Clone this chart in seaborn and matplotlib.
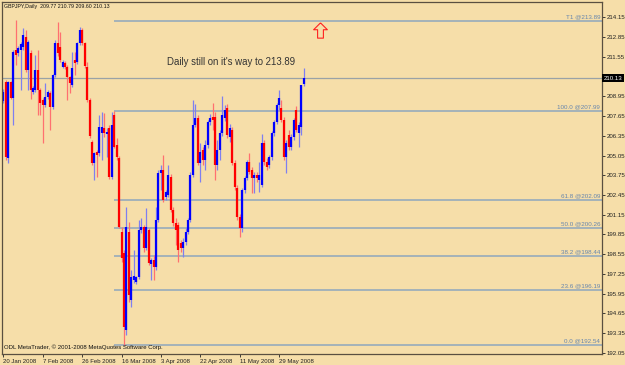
import numpy as np
import matplotlib
matplotlib.use("Agg")
import matplotlib.pyplot as plt
import matplotlib.transforms as mtransforms
from matplotlib.path import Path
import seaborn as sns

# ---------------- data (GBPJPY daily) ----------------
open_ = [208.62, 209.87, 204.87, 209.87, 208.82, 211.98, 211.78, 211.98, 212.18, 212.83,
         210.66, 211.78, 209.22, 209.35, 210.66, 209.35, 208.69, 208.36, 208.89, 209.15,
         208.23, 210.33, 212.44, 212.18, 210.86, 211.12, 210.86, 210.20, 209.68, 211.32,
         211.19, 212.44, 213.29, 212.44, 210.86, 208.69, 205.93, 204.54, 205.27, 205.20,
         206.52, 206.85, 206.45, 206.85, 203.62, 207.70, 205.73, 204.87, 200.00, 198.62,
         193.56, 200.00, 195.53, 196.85, 196.71, 197.04, 200.14, 200.33, 198.95, 200.14,
         197.90, 198.16, 197.70, 200.79, 203.89, 204.08, 202.31, 202.44, 203.62, 201.45,
         200.60, 200.47, 199.28, 198.95, 199.35, 200.00, 200.79, 203.75, 207.05, 207.51,
         204.54, 205.40, 204.74, 205.73, 207.24, 207.57, 207.57, 204.41, 205.40, 206.52,
         207.51, 208.16, 206.26, 206.72, 204.54, 202.90, 200.99, 200.27, 202.77, 203.56,
         204.61, 204.08, 203.56, 203.75, 203.43, 203.10, 205.86, 204.61, 204.41, 204.94,
         206.52, 207.24, 208.36, 208.16, 207.37, 204.94, 206.39, 205.60, 206.26, 208.03,
         206.52, 206.90, 209.77]
high = [209.41, 210.00, 209.94, 209.94, 211.98, 213.95, 212.24, 212.51, 213.43, 213.29,
        212.64, 211.98, 209.61, 211.65, 211.98, 209.48, 208.82, 209.81, 209.35, 209.28,
        210.40, 212.64, 213.82, 213.16, 211.32, 211.26, 210.99, 210.27, 211.85, 211.85,
        212.51, 213.49, 213.43, 212.51, 211.19, 208.82, 206.06, 205.27, 205.40, 207.70,
        207.90, 207.83, 206.85, 207.05, 207.90, 207.99, 206.19, 205.00, 200.33, 198.82,
        201.65, 200.66, 197.50, 198.82, 197.11, 200.79, 200.93, 200.47, 201.58, 200.27,
        198.29, 198.49, 201.65, 204.08, 204.41, 205.07, 202.77, 204.41, 203.82, 201.65,
        200.93, 200.66, 199.48, 199.61, 200.27, 200.93, 203.95, 208.69, 208.43, 207.70,
        205.86, 205.60, 206.06, 207.37, 207.77, 208.49, 207.90, 206.06, 206.72, 208.95,
        208.36, 208.43, 207.11, 206.91, 204.74, 203.10, 201.19, 202.90, 203.69, 204.74,
        205.20, 204.28, 203.95, 203.95, 204.61, 206.45, 206.06, 204.87, 205.07, 206.65,
        207.37, 208.49, 209.35, 208.69, 207.57, 206.06, 206.72, 206.45, 207.51, 208.30,
        207.24, 209.68, 210.79]
low = [208.49, 204.74, 204.54, 208.76, 207.05, 210.99, 211.58, 209.35, 211.98, 210.53,
       209.35, 208.76, 209.09, 209.22, 207.70, 207.70, 205.86, 208.23, 208.76, 206.72,
       208.10, 210.20, 211.58, 211.19, 210.80, 210.73, 208.69, 209.15, 209.55, 210.33,
       211.06, 212.31, 212.31, 210.80, 208.56, 206.19, 204.41, 203.43, 203.62, 205.00,
       204.74, 206.26, 204.94, 203.49, 203.49, 205.53, 204.74, 200.27, 198.03, 192.54,
       193.23, 195.40, 195.07, 196.65, 196.58, 196.91, 199.94, 198.69, 198.82, 197.83,
       196.85, 196.85, 197.50, 200.66, 202.77, 201.98, 202.11, 202.31, 201.32, 200.40,
       199.15, 198.03, 198.69, 198.36, 199.15, 199.87, 200.66, 203.62, 206.91, 204.41,
       203.29, 204.41, 204.08, 205.53, 207.05, 206.72, 203.43, 204.08, 204.74, 206.32,
       207.31, 206.19, 205.93, 204.41, 202.77, 200.79, 199.68, 200.00, 202.57, 203.43,
       203.82, 202.57, 202.57, 203.29, 202.64, 202.96, 204.41, 204.08, 204.22, 204.74,
       206.32, 207.11, 208.03, 207.24, 204.74, 203.89, 205.40, 205.40, 206.06, 206.58,
       205.60, 206.39, 209.60]
close = [209.22, 204.94, 209.87, 208.82, 211.85, 211.65, 212.11, 212.37, 212.97, 210.66,
         212.51, 209.35, 209.48, 210.66, 209.35, 208.49, 208.36, 208.89, 209.22, 208.23,
         210.33, 212.44, 211.78, 211.32, 211.19, 210.86, 210.20, 209.81, 210.80, 211.12,
         212.44, 213.29, 212.44, 210.93, 208.69, 206.32, 204.54, 205.20, 205.07, 206.91,
         206.91, 206.52, 206.58, 203.62, 207.05, 205.60, 204.94, 200.33, 198.29, 193.75,
         200.33, 195.86, 197.04, 197.11, 197.04, 200.14, 200.33, 198.95, 200.33, 197.97,
         198.16, 197.70, 200.79, 203.89, 204.08, 202.11, 202.64, 203.75, 201.45, 200.60,
         200.14, 198.82, 198.95, 199.35, 200.00, 200.79, 203.75, 207.05, 207.51, 204.54,
         205.27, 204.74, 205.73, 207.24, 207.51, 207.37, 204.41, 205.40, 206.52, 207.70,
         208.03, 206.39, 206.85, 204.54, 202.96, 200.99, 200.27, 202.77, 203.56, 204.61,
         203.95, 203.56, 203.75, 203.56, 203.75, 205.86, 204.61, 204.28, 204.94, 206.52,
         207.24, 208.36, 208.82, 207.37, 204.94, 205.86, 205.60, 206.26, 207.37, 206.72,
         207.05, 209.68, 210.13]

date_labels = ["20 Jan 2008", "7 Feb 2008", "26 Feb 2008", "16 Mar 2008",
               "3 Apr 2008", "22 Apr 2008", "11 May 2008", "29 May 2008"]
date_label_bars = [0, 16, 32, 48, 64, 80, 96, 112]

price_ticks = [214.15, 212.85, 211.55, 208.95, 207.65, 206.35, 205.05, 203.75,
               202.45, 201.15, 199.85, 198.55, 197.25, 195.95, 194.65, 193.35, 192.05]

fib_names = ["T1", "100.0", "61.8", "50.0", "38.2", "23.6", "0.0"]
fib_levels = [213.89, 207.99, 202.09, 200.26, 198.44, 196.19, 192.54]
fib_start_bar = 45
last_price = 210.13
target_price = 213.89

# ---------------- style ----------------
sns.set_theme(style="white")
plt.rcParams["font.family"] = ["Liberation Sans", "DejaVu Sans"]
bg = "#F6DEA9"
frame = "#5a4f40"

fig = plt.figure(figsize=(6.25, 3.65), dpi=100, facecolor=bg)
ax = fig.add_axes([2 / 625, 11 / 365, 600 / 625, 352 / 365])
ax.set_facecolor(bg)
ax.set_xlim(-0.6, 243.3)
ax.set_ylim(191.98, 215.16)

o = np.array(open_); h = np.array(high); l = np.array(low); c = np.array(close)
x = np.arange(len(c))
up = c >= o
body_cols = np.where(up, "#0000FF", "#FF0000")
wick_cols = np.where(up, "#7f7ff0", "#ff7070")

# current-price line
ax.axhline(last_price, color="#9aa2a6", lw=0.9, zorder=1)

# fibonacci levels
fib_col = "#8ea6bd"
fib_txt = "#6585ad"
ax.hlines(fib_levels, fib_start_bar, 243.3, colors=fib_col, lw=1.1, zorder=1)
trans_ya = mtransforms.blended_transform_factory(ax.transAxes, ax.transData)
for name, lev in zip(fib_names, fib_levels):
    ax.text(0.997, lev + 0.12, f"{name} @{lev:.2f}", transform=trans_ya,
            ha="right", va="bottom", fontsize=4.5, color=fib_txt, zorder=3)

# candles
ax.vlines(x, l, h, colors=wick_cols, lw=0.9, zorder=2)
body_lo = np.minimum(o, c)
body_hi = np.maximum(np.maximum(o, c), body_lo + 0.06)
ax.vlines(x, body_lo, body_hi, colors=body_cols, lw=1.6, zorder=2)

# annotation text and arrow
ax.text(66.3, 211.19, "Daily still on it's way to 213.89", fontsize=6.9,
        color="#333333", ha="left", va="center")
arrow = Path([(0, 1), (-0.9, 0.1), (-0.38, 0.1), (-0.38, -1), (0.38, -1),
              (0.38, 0.1), (0.9, 0.1), (0, 1)])
ax.plot([128.6], [target_price - 0.6], marker=arrow, markersize=11,
        mfc="none", mec="#ff2020", mew=0.8, ls="none", zorder=3)

# axes, ticks
for s in ax.spines.values():
    s.set_color(frame)
    s.set_linewidth(0.9)
ax.yaxis.tick_right()
ax.set_yticks(price_ticks)
ax.set_yticklabels([f"{t:.2f}" for t in price_ticks])
ax.tick_params(axis="y", right=True, left=False, length=2, width=0.6, pad=1.2,
               labelsize=4.4, colors="#222222")
ax.set_xticks(date_label_bars)
ax.set_xticklabels(date_labels, ha="left")
ax.tick_params(axis="x", bottom=True, length=2.5, width=0.6, pad=1.0,
               labelsize=4.3, colors="#222222")
for lab in ax.get_xticklabels():
    lab.set_horizontalalignment("left")

# last price box
ax.text(1.003, last_price, f"{last_price:.2f}", transform=trans_ya, ha="left",
        va="center", fontsize=4.4, color="white",
        bbox=dict(boxstyle="square,pad=0.25", fc="black", ec="none"), zorder=5)

# header and copyright
fig.text(4 / 625, 1 - 6.5 / 365,
         "GBPJPY,Daily  209.77 210.79 209.60 210.13",
         fontsize=3.8, color="#111111", ha="left", va="center")
ax.text(0.004, 0.012, "ODL MetaTrader, \u00a9 2001-2008 MetaQuotes Software Corp.",
        transform=ax.transAxes, fontsize=4.3, color="#111111", ha="left", va="bottom")

fig.savefig("out.png", dpi=100, facecolor=bg)
